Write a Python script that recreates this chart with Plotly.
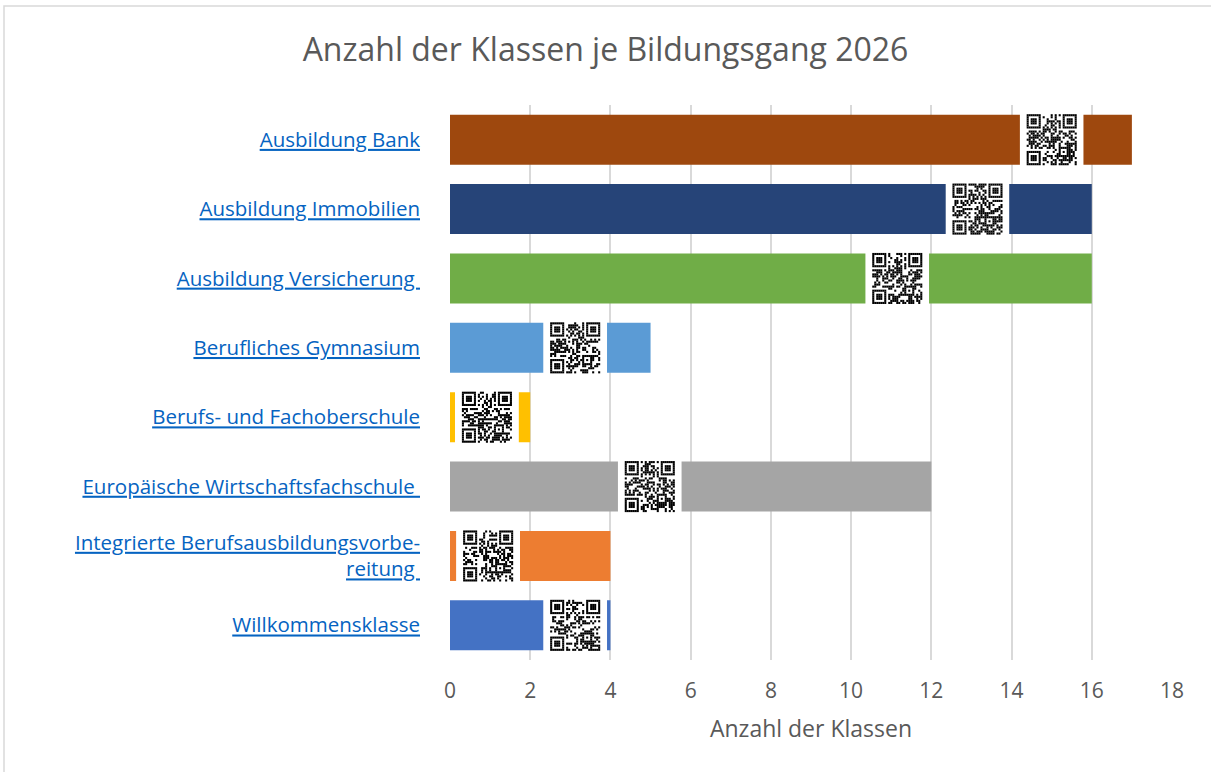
import plotly.graph_objects as go

categories = [
    "Ausbildung Bank",
    "Ausbildung Immobilien",
    "Ausbildung Versicherung ",
    "Berufliches Gymnasium",
    "Berufs- und Fachoberschule",
    "Europäische Wirtschaftsfachschule ",
    "Integrierte Berufsausbildungsvorbe-<br>reitung ",
    "Willkommensklasse",
]
values = [17, 16, 16, 5, 2, 12, 4, 4]
colors = ["#9E480E", "#264478", "#70AD47", "#5B9BD5", "#FFC000", "#A5A5A5", "#ED7D31", "#4472C4"]
qr_x = [15.0, 13.15, 11.15, 3.12, 0.92, 4.98, 0.95, 3.12]
x_ticks = [0, 2, 4, 6, 8, 10, 12, 14, 16, 18]


def qr_svg(seed):
    # decorative QR-like pattern (not data)
    n = 25
    state = 2463534242 + seed * 977
    grid = [[0] * n for _ in range(n)]
    for i in range(n):
        for j in range(n):
            state ^= (state << 13) & 0xFFFFFFFF
            state ^= state >> 17
            state ^= (state << 5) & 0xFFFFFFFF
            grid[i][j] = 1 if (state % 100) < 48 else 0

    def finder(r, c):
        for i in range(-1, 8):
            for j in range(-1, 8):
                rr, cc = r + i, c + j
                if 0 <= rr < n and 0 <= cc < n:
                    if 0 <= i <= 6 and 0 <= j <= 6:
                        edge = i in (0, 6) or j in (0, 6)
                        core = 2 <= i <= 4 and 2 <= j <= 4
                        grid[rr][cc] = 1 if (edge or core) else 0
                    else:
                        grid[rr][cc] = 0

    finder(0, 0)
    finder(0, n - 7)
    finder(n - 7, 0)
    for i in range(5):
        for j in range(5):
            edge = i in (0, 4) or j in (0, 4)
            grid[16 + i][16 + j] = 1 if (edge or (i == 2 and j == 2)) else 0
    for k in range(8, n - 8):
        grid[6][k] = 1 if k % 2 == 0 else 0
        grid[k][6] = 1 if k % 2 == 0 else 0
    W, H = 64, 56
    qw, qh = 50, 51
    mx, my = qw / n, qh / n
    ox, oy = (W - qw) / 2, (H - qh) / 2
    rects = []
    for i in range(n):
        for j in range(n):
            if grid[i][j]:
                rects.append(
                    f"<rect x='{ox + j * mx:.2f}' y='{oy + i * my:.2f}' width='{mx + 0.05:.2f}' height='{my + 0.05:.2f}'/>"
                )
    svg = (
        f"<svg xmlns='http://www.w3.org/2000/svg' width='{W}' height='{H}' viewBox='0 0 {W} {H}'>"
        f"<rect width='{W}' height='{H}' fill='white'/><g fill='black'>" + "".join(rects) + "</g></svg>"
    )
    return "data:image/svg+xml;utf8," + svg.replace("#", "%23").replace("<", "%3C").replace(">", "%3E")


fig = go.Figure(
    go.Bar(
        x=values,
        y=categories,
        orientation="h",
        marker=dict(color=colors, line=dict(width=0)),
        width=0.72,
        hoverinfo="x+y",
    )
)

L, R, T, B = 450, 39, 105, 112
W, H = 1211, 772
pw, ph = W - L - R, H - T - B

images = []
for idx, xc in enumerate(qr_x):
    images.append(
        dict(
            source=qr_svg(idx),
            xref="x",
            yref="y",
            x=xc,
            y=idx,
            sizex=64 / pw * 18,
            sizey=56 / (ph / 8),
            xanchor="center",
            yanchor="middle",
            sizing="stretch",
            layer="above",
        )
    )

fig.update_layout(
    width=W,
    height=H,
    margin=dict(l=L, r=R, t=T, b=B),
    paper_bgcolor="white",
    plot_bgcolor="white",
    showlegend=False,
    title=dict(
        text="Anzahl der Klassen je Bildungsgang 2026",
        x=0.5,
        xanchor="center",
        xref="container",
        y=1 - 50 / H,
        yanchor="middle",
        font=dict(family="Open Sans", size=32, color="#595959"),
    ),
    xaxis=dict(
        range=[0, 18],
        tickvals=x_ticks,
        ticktext=[str(v) for v in x_ticks],
        showgrid=True,
        gridcolor="#D9D9D9",
        gridwidth=2,
        zeroline=False,
        showline=False,
        ticks="",
        ticklabelstandoff=16,
        tickfont=dict(family="Open Sans", size=21, color="#595959"),
        title=dict(
            text="Anzahl der Klassen",
            font=dict(family="Open Sans", size=23, color="#595959"),
            standoff=17,
        ),
        fixedrange=True,
    ),
    yaxis=dict(
        categoryorder="array",
        categoryarray=categories,
        autorange="reversed",
        showgrid=False,
        zeroline=False,
        showline=False,
        ticks="",
        ticklabelstandoff=29,
        tickfont=dict(family="Open Sans", size=20.5, color="#0563C1", lineposition="under"),
        fixedrange=True,
    ),
    images=images,
    shapes=[
        dict(
            type="rect",
            xref="paper",
            yref="paper",
            x0=(4 - L) / pw,
            x1=(W + 20 - L) / pw,
            y0=-(B + 20) / ph,
            y1=1 + (T - 6) / ph,
            line=dict(color="#D9D9D9", width=1.5),
            fillcolor="rgba(0,0,0,0)",
            layer="below",
        )
    ],
)

fig.write_html(
    "out.html",
    config={"displayModeBar": False},
    post_script="document.body.style.margin='0';document.body.style.overflow='hidden';",
)
